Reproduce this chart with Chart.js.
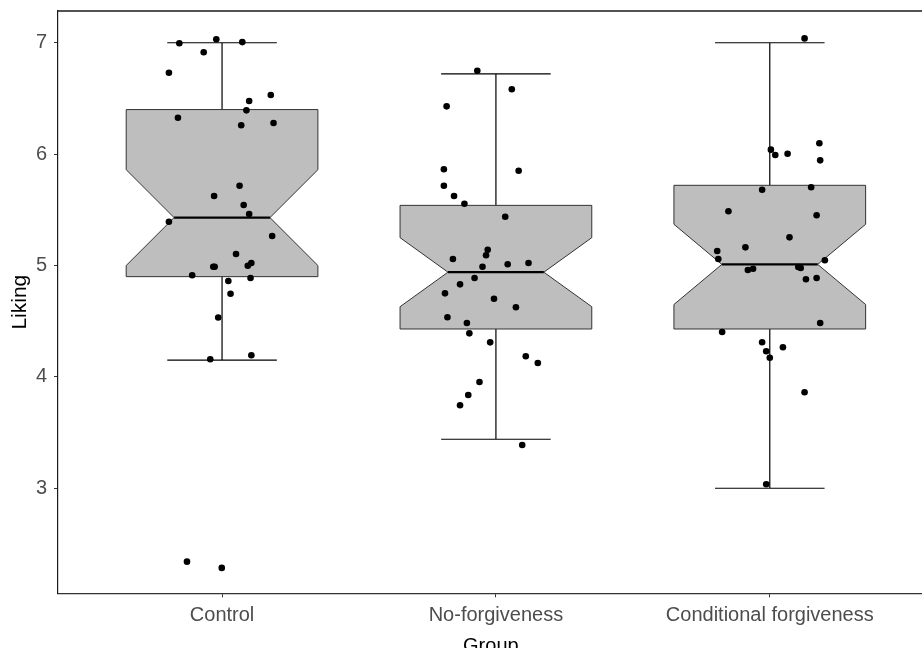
<!DOCTYPE html>
<html>
<head>
<meta charset="utf-8">
<script src="https://cdn.jsdelivr.net/npm/chart.js@4.4.1/dist/chart.umd.min.js"></script>
<style>
    html, body { margin: 0; padding: 0; background: #ffffff; overflow: hidden; }
    #wrap { width: 922px; height: 648px; overflow: hidden; }
    #likingChart { display: block; }
</style>
</head>
<body>
<!-- canvas is a few px wider than the view: Chart.js keeps a small right margin,
     while the source panel runs straight off the right edge -->
<div id="wrap"><canvas id="likingChart" width="927" height="648"></canvas></div>
<script>
// --- data ---
const groups = ['Control', 'No-forgiveness', 'Conditional forgiveness'];
const y_ticks = [3, 4, 5, 6, 7];

// box statistics per group (Liking)
const whisker_low = [4.15, 3.44, 3.00];
const q1 = [4.90, 4.43, 4.43];
const median = [5.43, 4.94, 5.01];
const q3 = [6.40, 5.54, 5.72];
const whisker_high = [7.00, 6.72, 7.00];
const notch_low = [5.00, 4.63, 4.65];
const notch_high = [5.86, 5.25, 5.37];

// jittered raw observations: value + horizontal jitter (in group units)
const control_liking = [6.995, 7.031, 7.006, 6.914, 6.731, 6.531, 6.477, 6.393, 6.327, 6.259, 6.279, 5.716, 5.624, 5.543, 5.462, 5.393, 5.265, 5.103, 4.989, 4.989, 4.998, 5.022, 4.912, 4.888, 4.861, 4.747, 4.533, 4.158, 4.194, 2.341, 2.285];
const control_jitter = [-0.156, -0.021, 0.074, -0.067, -0.194, 0.178, 0.099, 0.089, -0.161, 0.070, 0.188, 0.064, -0.029, 0.079, 0.099, -0.194, 0.183, 0.051, -0.032, -0.027, 0.094, 0.107, -0.109, 0.104, 0.023, 0.031, -0.014, -0.043, 0.107, -0.128, -0.001];

const noforgive_liking = [6.749, 6.582, 6.429, 5.864, 5.851, 5.716, 5.624, 5.555, 5.438, 5.142, 5.092, 5.058, 5.011, 5.022, 4.989, 4.888, 4.831, 4.750, 4.702, 4.625, 4.535, 4.484, 4.391, 4.310, 4.185, 4.125, 3.954, 3.838, 3.745, 3.389];
const noforgive_jitter = [-0.068, 0.058, -0.180, -0.190, 0.083, -0.190, -0.153, -0.115, 0.034, -0.030, -0.036, -0.157, 0.043, 0.119, -0.049, -0.078, -0.131, -0.186, -0.007, 0.073, -0.177, -0.106, -0.097, -0.021, 0.109, 0.153, -0.060, -0.101, -0.131, 0.096];

const conditional_liking = [7.039, 6.040, 5.992, 6.004, 6.097, 5.944, 5.680, 5.702, 5.487, 5.451, 5.253, 5.163, 5.130, 5.059, 5.047, 4.960, 4.971, 4.987, 4.978, 4.876, 4.888, 4.484, 4.403, 4.311, 4.266, 4.230, 4.172, 3.862, 3.036];
const conditional_jitter = [0.127, 0.004, 0.020, 0.065, 0.181, 0.184, -0.028, 0.151, -0.151, 0.171, 0.072, -0.089, -0.192, -0.188, 0.201, -0.080, -0.061, 0.104, 0.113, 0.132, 0.171, 0.184, -0.174, -0.028, 0.048, -0.013, 0.000, 0.127, -0.013];

const FONT = "'Liberation Sans', Arial, sans-serif";
const BOX = { half: 0.35, notch: 0.175, cap: 0.2, fill: '#bebebe', edge: '#333333' };

function build_points(values, jitter, group_index) {
    return values.map((v, i) => ({ x: group_index + 1 + jitter[i], y: v }));
}

// scales should not reserve extra room for half-labels: the plot area is fixed
function fix_scale_size(s, prop, size) {
    s[prop] = size;
    s.paddingTop = 0; s.paddingBottom = 0; s.paddingLeft = 0; s.paddingRight = 0;
}

// Notched boxes + error-bar whiskers, drawn under the points through the chart scales
const notched_box_plugin = {
    id: 'notchedBox',
    beforeDatasetsDraw(chart) {
        const { ctx, scales: { x, y } } = chart;
        ctx.save();
        groups.forEach((g, i) => {
            const c = i + 1;
            const px = v => x.getPixelForValue(v);
            const py = v => y.getPixelForValue(v);

            // error bar (full whisker + caps)
            ctx.strokeStyle = '#000000';
            ctx.lineWidth = 1.2;
            ctx.beginPath();
            ctx.moveTo(px(c), py(whisker_low[i]));
            ctx.lineTo(px(c), py(whisker_high[i]));
            ctx.moveTo(px(c - BOX.cap), py(whisker_high[i]));
            ctx.lineTo(px(c + BOX.cap), py(whisker_high[i]));
            ctx.moveTo(px(c - BOX.cap), py(whisker_low[i]));
            ctx.lineTo(px(c + BOX.cap), py(whisker_low[i]));
            ctx.stroke();

            // notched box outline
            const xmin = c - BOX.half, xmax = c + BOX.half;
            const pts = [
                [xmin, q3[i]], [xmin, notch_high[i]], [xmin + BOX.notch, median[i]],
                [xmin, notch_low[i]], [xmin, q1[i]], [xmax, q1[i]], [xmax, notch_low[i]],
                [xmax - BOX.notch, median[i]], [xmax, notch_high[i]], [xmax, q3[i]]
            ];
            ctx.beginPath();
            pts.forEach(([a, b], k) => k === 0 ? ctx.moveTo(px(a), py(b)) : ctx.lineTo(px(a), py(b)));
            ctx.closePath();
            ctx.fillStyle = BOX.fill;
            ctx.fill();
            ctx.strokeStyle = BOX.edge;
            ctx.lineWidth = 1;
            ctx.stroke();

            // median
            ctx.strokeStyle = '#000000';
            ctx.lineWidth = 2.2;
            ctx.beginPath();
            ctx.moveTo(px(xmin + BOX.notch), py(median[i]));
            ctx.lineTo(px(xmax - BOX.notch), py(median[i]));
            ctx.stroke();
        });
        ctx.restore();
    },
    afterDraw(chart) {
        // top panel border (right side is cropped off in the original)
        const { ctx, chartArea } = chart;
        ctx.save();
        ctx.strokeStyle = '#1a1a1a';
        ctx.lineWidth = 1.6;
        ctx.beginPath();
        ctx.moveTo(chartArea.left, chartArea.top);
        ctx.lineTo(chart.width, chartArea.top);
        ctx.stroke();
        ctx.restore();
    }
};

const point_style = { backgroundColor: '#000000', borderWidth: 0, pointRadius: 3.3, pointHoverRadius: 3.3 };

new Chart(document.getElementById('likingChart').getContext('2d'), {
    type: 'scatter',
    data: {
        datasets: [
            { label: groups[0], data: build_points(control_liking, control_jitter, 0), ...point_style },
            { label: groups[1], data: build_points(noforgive_liking, noforgive_jitter, 1), ...point_style },
            { label: groups[2], data: build_points(conditional_liking, conditional_jitter, 2), ...point_style }
        ]
    },
    options: {
        responsive: false,
        animation: false,
        layout: { padding: { top: 11, left: 0, right: 0, bottom: 0 } },
        plugins: { legend: { display: false }, tooltip: { enabled: false } },
        scales: {
            x: {
                type: 'linear',
                min: 0.401,
                max: 3.562,
                afterBuildTicks: s => { s.ticks = groups.map((g, i) => ({ value: i + 1 })); },
                afterFit: s => fix_scale_size(s, 'height', 54.7),
                ticks: {
                    callback: v => groups[Math.round(v) - 1],
                    autoSkip: false, maxRotation: 0, minRotation: 0,
                    color: '#4d4d4d', font: { family: FONT, size: 20 }, padding: 6
                },
                grid: { drawOnChartArea: false, tickLength: 4, color: '#333333' },
                border: { display: true, color: '#333333', width: 1.2 },
                title: { display: true, text: 'Group', color: '#000000', font: { family: FONT, size: 20 }, padding: { top: 0, bottom: -10 } }
            },
            y: {
                type: 'linear',
                min: 2.057,
                max: 7.285,
                afterBuildTicks: s => { s.ticks = y_ticks.map(v => ({ value: v })); },
                afterFit: s => fix_scale_size(s, 'width', 58),
                ticks: { color: '#4d4d4d', font: { family: FONT, size: 20 }, padding: 7 },
                grid: { drawOnChartArea: false, tickLength: 4, color: '#333333' },
                border: { display: true, color: '#1a1a1a', width: 1.2 },
                title: { display: true, text: 'Liking', color: '#000000', font: { family: FONT, size: 21 }, padding: { top: 8, bottom: 0 } }
            }
        }
    },
    plugins: [notched_box_plugin]
});
</script>
</body>
</html>
